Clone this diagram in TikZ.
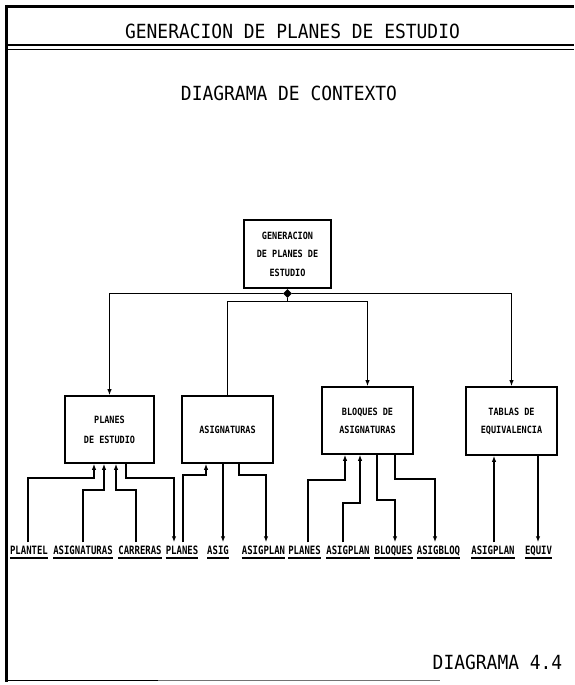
\documentclass[tikz,border=0pt]{standalone}
\usepackage{fontspec}
\usetikzlibrary{arrows.meta,shapes.geometric}
\newfontfamily\titlefont[FakeStretch=0.92]{DejaVu Sans Mono}
\newfontfamily\smallfont[FakeStretch=0.85]{DejaVu Sans Mono}
\newfontfamily\lblfont[FakeStretch=0.78]{DejaVu Sans Mono}
\tikzset{
  ttl/.style={font=\titlefont\fontsize{19.5}{22}\selectfont, inner sep=0pt, anchor=base},
  procbox/.style={draw, line width=1.7pt, align=center, inner sep=2pt},
  lbl/.style={font=\lblfont\bfseries\fontsize{11.5}{12}\selectfont, inner sep=0pt, anchor=base},
  conn/.style={line width=1.2pt},
  arr/.style={conn, -{Latex[length=6pt,width=4.5pt]}},
  ul/.style={line width=1.3pt},
  frame/.style={line width=3pt}
}
\begin{document}
\begin{tikzpicture}[x=1pt,y=-1pt]
\useasboundingbox (0,0) rectangle (574,685);
% frame
\draw[frame] (6.5,5) -- (6.5,681.5);
\draw[frame] (5,6.5) -- (574,6.5);
\draw[line width=1.2pt] (5,45) -- (574,45);
\draw[line width=1.2pt] (5,49.5) -- (574,49.5);
\draw[line width=1.5pt] (5,680.5) -- (158,680.5);
\draw[line width=1pt, black!55] (158,680.5) -- (440,680.5);
% titles
\node[ttl] (t1) at (292.5,39) {GENERACION DE PLANES DE ESTUDIO};
\node[ttl] (t2) at (289,100) {DIAGRAMA DE CONTEXTO};
\node[ttl] (t3) at (497.5,669) {DIAGRAMA 4.4};
% boxes
\node[procbox, minimum width=87pt, minimum height=68pt,
      font=\smallfont\bfseries\fontsize{10}{18.5}\selectfont] (gen) at (287.5,254) {GENERACION\\DE PLANES DE\\ESTUDIO};
\node[procbox, minimum width=89pt, minimum height=67pt,
      font=\smallfont\bfseries\fontsize{10}{20}\selectfont] (planes) at (109.5,429.5) {PLANES\\DE ESTUDIO};
\node[procbox, minimum width=91pt, minimum height=67pt,
      font=\smallfont\bfseries\fontsize{10}{18}\selectfont] (asig) at (227.5,429.5) {ASIGNATURAS};
\node[procbox, minimum width=91pt, minimum height=67pt,
      font=\smallfont\bfseries\fontsize{10}{18}\selectfont] (bloques) at (367.5,420.5) {BLOQUES DE\\ASIGNATURAS};
\node[procbox, minimum width=91pt, minimum height=68pt,
      font=\smallfont\bfseries\fontsize{10}{18}\selectfont] (tablas) at (511.5,421) {TABLAS DE\\EQUIVALENCIA};
% diamond
\node[diamond, fill=black, inner sep=0pt, minimum width=9pt, minimum height=9pt, anchor=north] (dm) at (gen.south) {};
\coordinate (dj) at ([yshift=-3pt]dm.south);
\draw[arr] (dm.west) -| (planes.north);
\draw[arr] (dm.east) -| (tablas.north);
\draw[conn] (dm.south) -- (dj) -| (asig.north);
\draw[arr] (dm.south) -- (dj) -| (bloques.north);
% labels
\node[lbl] (l1) at (29,554) {PLANTEL};
\node[lbl] (l2) at (83,554) {ASIGNATURAS};
\node[lbl] (l3) at (140,554) {CARRERAS};
\node[lbl] (l4) at (182,554) {PLANES};
\node[lbl] (l5) at (218,554) {ASIG};
\node[lbl] (l6) at (263.5,554) {ASIGPLAN};
\node[lbl] (l7) at (304.5,554) {PLANES};
\node[lbl] (l8) at (348,554) {ASIGPLAN};
\node[lbl] (l9) at (393.5,554) {BLOQUES};
\node[lbl] (l10) at (438.5,554) {ASIGBLOQ};
\node[lbl] (l11) at (493,554) {ASIGPLAN};
\node[lbl] (l12) at (538.5,554) {EQUIV};
\foreach \n in {l1,l2,l3,l4,l5,l6,l7,l8,l9,l10,l11,l12}
  \draw[ul] ([yshift=-4pt]\n.base west) -- ([yshift=-4pt]\n.base east);
% connectors to/from planes
\draw[arr] ([xshift=-1pt,yshift=3pt]l1.north) |- (94,478) -- ([xshift=-15.5pt]planes.south);
\draw[arr] ([yshift=3pt]l2.north) |- (104,490) -- ([xshift=-5.5pt]planes.south);
\draw[arr] ([xshift=-4pt,yshift=3pt]l3.north) |- (116,490) -- ([xshift=6.5pt]planes.south);
\draw[arr] ([xshift=16.5pt]planes.south) |- (174,478) -- ([xshift=-8pt,yshift=3pt]l4.north);
% asignaturas
\draw[arr] ([xshift=1pt,yshift=3pt]l4.north) |- (206,475) -- ([xshift=-21.5pt]asig.south);
\draw[arr] ([xshift=-4.5pt]asig.south) -- ([xshift=5pt,yshift=3pt]l5.north);
\draw[arr] ([xshift=11.5pt]asig.south) |- (266,475) -- ([xshift=2.5pt,yshift=3pt]l6.north);
% bloques
\draw[arr] ([xshift=3.5pt,yshift=3pt]l7.north) |- (345,480) -- ([xshift=-22.5pt]bloques.south);
\draw[arr] ([xshift=-5pt,yshift=3pt]l8.north) |- (360,503) -- ([xshift=-7.5pt]bloques.south);
\draw[arr] ([xshift=9.5pt]bloques.south) |- (395,500) -- ([xshift=1.5pt,yshift=3pt]l9.north);
\draw[arr] ([xshift=27.5pt]bloques.south) |- (435,479) -- ([xshift=-3.5pt,yshift=3pt]l10.north);
% tablas
\draw[arr] ([xshift=1pt,yshift=3pt]l11.north) -- ([xshift=-17.5pt]tablas.south);
\draw[arr] ([xshift=26.5pt]tablas.south) -- ([xshift=-0.5pt,yshift=3pt]l12.north);
\end{tikzpicture}
\end{document}
